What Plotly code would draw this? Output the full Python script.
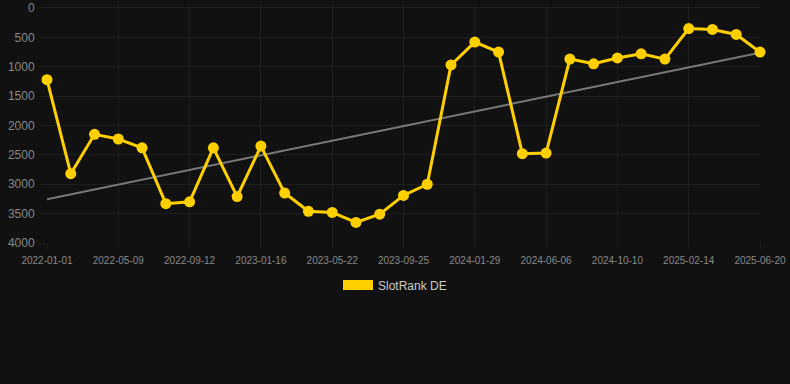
import numpy as np
import plotly.graph_objects as go

tick_labels = ["2022-01-01", "2022-05-09", "2022-09-12", "2023-01-16", "2023-05-22",
               "2023-09-25", "2024-01-29", "2024-06-06", "2024-10-10", "2025-02-14",
               "2025-06-20"]
rank_de = [1220, 2820, 2150, 2230, 2380, 3330, 3300, 2380, 3210, 2350,
           3150, 3460, 3480, 3650, 3510, 3190, 3000, 970, 580, 750,
           2480, 2470, 870, 950, 850, 780, 870, 350, 365, 450, 750]
y_ticks = [0, 500, 1000, 1500, 2000, 2500, 3000, 3500, 4000]
series_name = "SlotRank DE"

idx = list(range(len(rank_de)))
tick_idx = idx[::3]

coef = np.polyfit(idx, rank_de, 1)
trend = list(np.polyval(coef, [idx[0], idx[-1]]))

GOLD = "#FFD000"
fig = go.Figure()
fig.add_trace(go.Scatter(x=[idx[0], idx[-1]], y=trend, mode="lines",
                         line=dict(color="rgba(140,140,140,0.85)", width=2),
                         showlegend=False, hoverinfo="skip"))
fig.add_trace(go.Scatter(x=idx, y=rank_de, mode="lines+markers",
                         line=dict(color=GOLD, width=3),
                         marker=dict(color=GOLD, size=11),
                         cliponaxis=False, showlegend=False, name=series_name))
fig.add_trace(go.Scatter(x=[None], y=[None], mode="lines",
                         line=dict(color=GOLD, width=12), name=series_name))

fig.update_layout(
    width=790, height=384,
    paper_bgcolor="#111111", plot_bgcolor="#111111",
    margin=dict(l=47, r=30, t=1, b=141),
    font=dict(family="Liberation Sans, Arial, sans-serif", color="#999999"),
    showlegend=True,
    legend=dict(orientation="h", xref="container", yref="container",
                x=0.5, xanchor="center", y=0.258, yanchor="middle",
                font=dict(size=12, color="#cccccc"), bgcolor="rgba(0,0,0,0)"),
    xaxis=dict(range=[0, 30], tickmode="array", tickvals=tick_idx, ticktext=tick_labels,
               showgrid=True, gridcolor="#1e1e1e", gridwidth=1, zeroline=False,
               showline=False, tickfont=dict(size=10, color="#888888"),
               ticks="outside", ticklen=5, tickcolor="#1e1e1e",
               ticklabelstandoff=3, ticklabeloverflow="allow"),
    yaxis=dict(range=[4000, -85], tickmode="array", tickvals=y_ticks,
               showgrid=True, gridcolor="#1e1e1e", gridwidth=1, zeroline=False,
               showline=False, tickfont=dict(size=12, color="#888888"),
               ticks="outside", ticklen=7, tickcolor="#1e1e1e",
               ticklabelstandoff=2, ticklabeloverflow="allow"),
)

fig.write_html("out.html", config={"displayModeBar": False})
with open("out.html", "r", encoding="utf-8") as f:
    html = f.read()
html = html.replace("<head>", '<head><style>html,body{margin:0;padding:0;background:#111111;}</style>', 1)
with open("out.html", "w", encoding="utf-8") as f:
    f.write(html)
